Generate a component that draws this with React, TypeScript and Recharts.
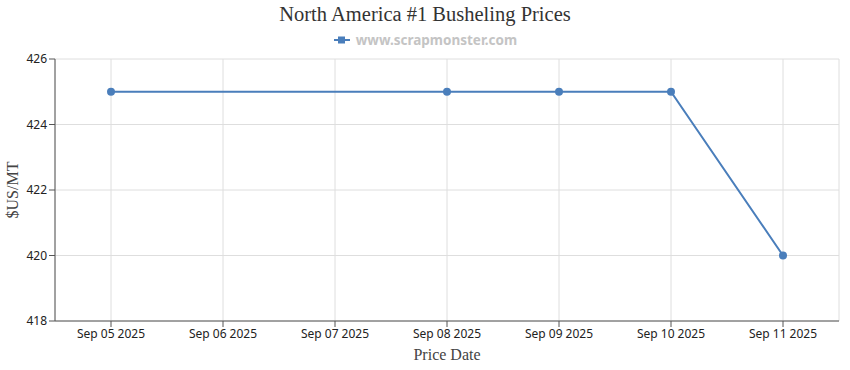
import React from 'react';
import {
  LineChart,
  Line,
  XAxis,
  YAxis,
  CartesianGrid,
  Label,
} from 'recharts';

// price dates shown on the x axis
const priceDates = [
  'Sep 05 2025',
  'Sep 06 2025',
  'Sep 07 2025',
  'Sep 08 2025',
  'Sep 09 2025',
  'Sep 10 2025',
  'Sep 11 2025',
];

// no prices published on the 6th and 7th
const prices: Array<number | null> = [425, null, null, 425, 425, 425, 420];

const yTicks = [418, 420, 422, 424, 426];

const lineColor = '#4a7ebb';
const tickFont = '"Noto Sans", sans-serif';
const serif = '"Liberation Serif", "DejaVu Serif", serif';

const data = priceDates.map((date, i) => ({ date, price: prices[i] }));

const App: React.FC = () => {
  return (
    <div style={{ position: 'fixed', top: 0, left: 0, width: 850, height: 370, background: '#fff' }}>
      <div
        style={{
          position: 'absolute',
          top: 3,
          width: 850,
          textAlign: 'center',
          fontFamily: serif,
          fontSize: 20.5,
          color: '#333',
        }}
      >
        North America #1 Busheling Prices
      </div>
      <div
        style={{
          position: 'absolute',
          top: 31,
          width: 850,
          display: 'flex',
          justifyContent: 'center',
          alignItems: 'center',
          fontFamily: tickFont,
          fontWeight: 'bold',
          fontSize: 13.5,
          color: '#c4c4c4',
        }}
      >
        <svg width={18} height={10} style={{ marginRight: 5 }}>
          <line x1={1} y1={5} x2={17} y2={5} stroke={lineColor} strokeWidth={2} />
          <rect x={5} y={1.5} width={7} height={7} fill={lineColor} />
        </svg>
        www.scrapmonster.com
      </div>
      <LineChart
        width={850}
        height={370}
        data={data}
        margin={{ top: 59, right: 11, left: 0, bottom: 0 }}
      >
        <CartesianGrid stroke="#dedede" />
        <XAxis
          dataKey="date"
          height={49}
          padding={{ left: 56, right: 56 }}
          stroke="#555"
          tickSize={6}
          tick={{ fill: '#222', fontSize: 12, fontFamily: tickFont }}
          interval={0}
        >
          <Label
            value="Price Date"
            position="insideBottom"
            offset={10}
            style={{ fontFamily: serif, fontSize: 16, fill: '#444' }}
          />
        </XAxis>
        <YAxis
          domain={[418, 426]}
          ticks={yTicks}
          width={55}
          stroke="#555"
          tickSize={6}
          tick={{ fill: '#222', fontSize: 12, fontFamily: tickFont }}
        >
          <Label
            value="$US/MT"
            angle={-90}
            position="insideLeft"
            offset={12}
            style={{ fontFamily: serif, fontSize: 16, fill: '#444', textAnchor: 'middle' }}
          />
        </YAxis>
        <YAxis
          yAxisId="edge"
          orientation="right"
          domain={[418, 426]}
          width={0}
          tick={false}
          tickLine={false}
          stroke="#dedede"
        />
        <Line
          type="linear"
          dataKey="price"
          stroke={lineColor}
          strokeWidth={2}
          connectNulls
          dot={{ r: 4, fill: lineColor, stroke: lineColor, strokeWidth: 0 }}
          activeDot={false}
          isAnimationActive={false}
        />
      </LineChart>
    </div>
  );
};

export default App;
